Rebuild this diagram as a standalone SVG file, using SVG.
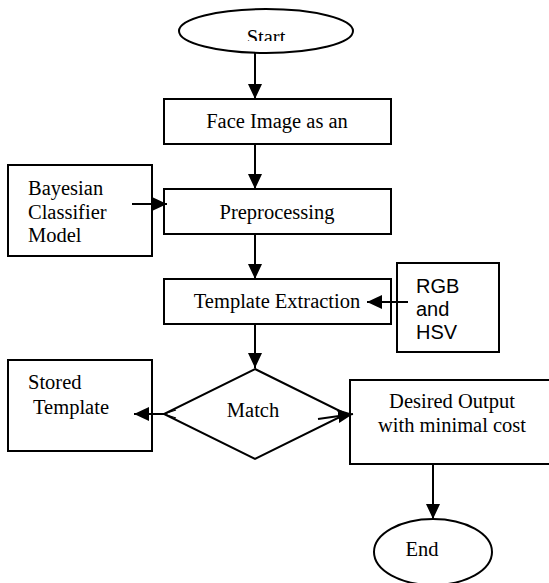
<svg xmlns="http://www.w3.org/2000/svg" width="549" height="583" viewBox="0 0 549 583">
<style>
.shape{fill:#fff;stroke:#000;stroke-width:2}
.t{font-family:"Liberation Serif","Times New Roman",serif;font-size:20.5px;fill:#000}
.s{font-family:"Liberation Sans",Arial,sans-serif;font-size:20px;fill:#000}
.c{text-anchor:middle}
.conn{fill:none;stroke:#000;stroke-width:2}
.thin{fill:none;stroke:#000;stroke-width:1.2}
</style>
<defs>
<marker id="ah" markerUnits="userSpaceOnUse" markerWidth="16" markerHeight="15" refX="15" refY="7" orient="auto">
<path d="M0,0 L15,7 L0,14 z" fill="#000"/>
</marker>
<clipPath id="startClip"><rect x="0" y="0" width="549" height="41"/></clipPath>
</defs>
<rect width="549" height="583" fill="#fff"/>
<g id="start">
<ellipse class="shape" cx="266" cy="31" rx="87" ry="22"/>
<text class="t c" x="266" y="44" clip-path="url(#startClip)">Start</text>
</g>
<g id="face">
<rect class="shape" x="164" y="99" width="227" height="45"/>
<text class="t c" x="277" y="128">Face Image as an</text>
</g>
<g id="bayes">
<rect class="shape" x="8" y="165" width="144" height="91"/>
<text class="t" x="28" y="195">Bayesian</text>
<text class="t" x="28" y="219">Classifier</text>
<text class="t" x="28" y="242">Model</text>
</g>
<g id="pre">
<rect class="shape" x="164" y="189" width="227" height="45"/>
<text class="t c" x="277" y="219">Preprocessing</text>
</g>
<g id="template">
<rect class="shape" x="164" y="279" width="227" height="45"/>
<text class="t c" x="277" y="308">Template Extraction</text>
</g>
<g id="rgb">
<rect class="shape" x="397" y="263" width="102" height="89"/>
<text class="s" x="416" y="293">RGB</text>
<text class="s" x="416" y="316">and</text>
<text class="s" x="416" y="339">HSV</text>
</g>
<g id="stored">
<rect class="shape" x="8" y="360" width="144" height="91"/>
<text class="t" x="28" y="389">Stored</text>
<text class="t" x="33" y="414">Template</text>
</g>
<g id="match">
<polygon class="shape" points="255,369 346,414 255,459 164,414"/>
<text class="t c" x="253" y="417">Match</text>
</g>
<g id="desired">
<rect class="shape" x="350" y="380" width="202" height="84"/>
<text class="t c" x="452" y="408">Desired Output</text>
<text class="t c" x="452" y="432">with minimal cost</text>
</g>
<g id="end">
<ellipse class="shape" cx="433" cy="552" rx="59" ry="33"/>
<text class="t c" x="422" y="556">End</text>
</g>
<g id="connectors">
<path class="conn" d="M255,53 L255,99" marker-end="url(#ah)"/>
<path class="conn" d="M255,144 L255,189" marker-end="url(#ah)"/>
<path class="conn" d="M132,204 L167,204" marker-end="url(#ah)"/>
<path class="conn" d="M255,234 L255,279" marker-end="url(#ah)"/>
<path class="conn" d="M408,302 L367,302" marker-end="url(#ah)"/>
<path class="conn" d="M255,324 L255,368" marker-end="url(#ah)"/>
<path class="conn" d="M164,414 L134,414" marker-end="url(#ah)"/>
<path class="thin" d="M176,410 L164,414 L176,418"/>
<path class="conn" d="M318,419 L353,414" marker-end="url(#ah)"/>
<path class="conn" d="M433,464 L433,519" marker-end="url(#ah)"/>
</g>
</svg>
